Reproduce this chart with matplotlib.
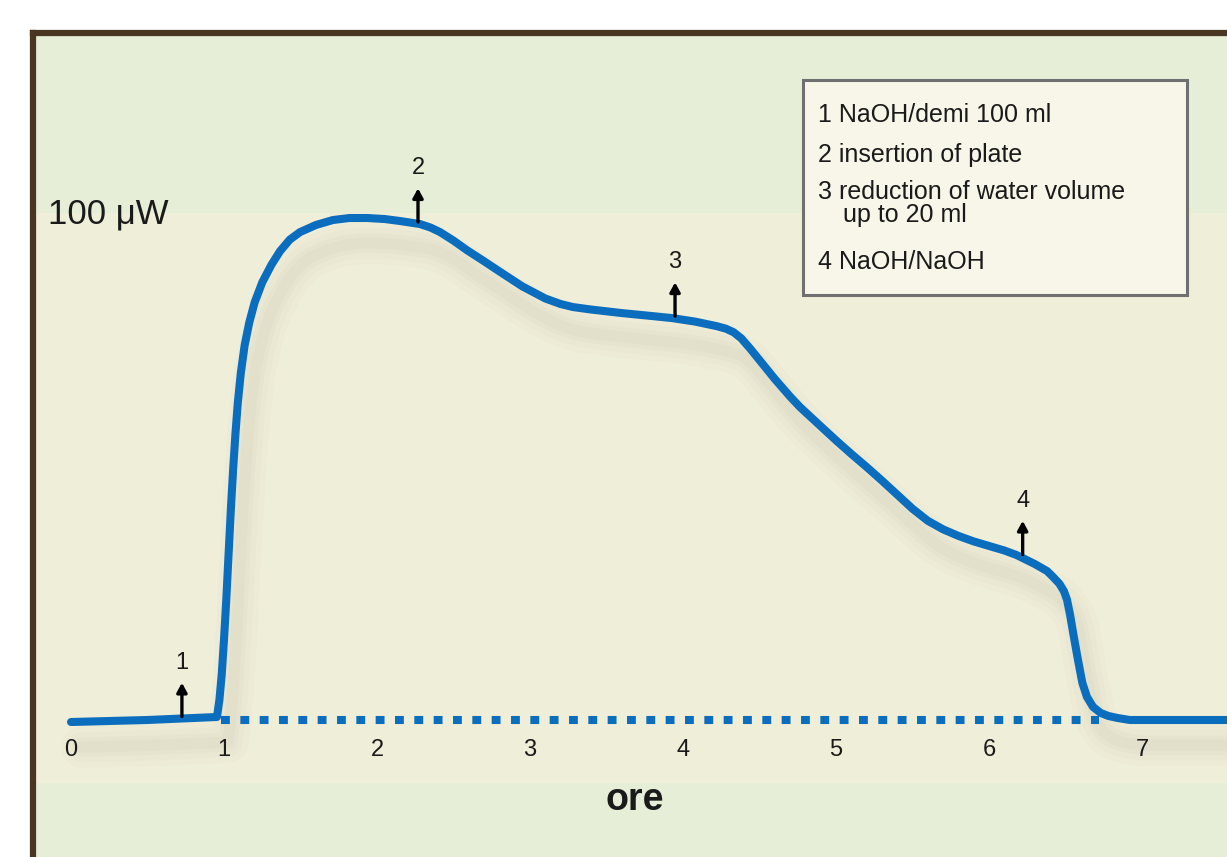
import matplotlib
matplotlib.use("Agg")
import matplotlib.pyplot as plt
import matplotlib.patches as mpatches
import numpy as np

# heat-flow trace (hours vs µW)
t_hours = [0.0, 0.5, 0.954, 0.97, 0.985, 1.0, 1.015, 1.03, 1.045, 1.06,
           1.075, 1.09, 1.11, 1.135, 1.165, 1.2, 1.25, 1.31, 1.366, 1.43,
           1.497, 1.6, 1.712, 1.82, 1.935, 2.05, 2.15, 2.281, 2.35, 2.412,
           2.5, 2.588, 2.7, 2.804, 2.95, 3.1, 3.2, 3.28, 3.4, 3.6, 3.8,
           3.93, 4.08, 4.22, 4.28, 4.33, 4.38, 4.44, 4.52, 4.6, 4.7, 4.765,
           4.9, 5.0, 5.1, 5.2, 5.3, 5.4, 5.5, 5.6, 5.7, 5.8, 5.9, 6.0, 6.1,
           6.18, 6.3, 6.38, 6.42, 6.46, 6.49, 6.51, 6.53, 6.55, 6.58, 6.61,
           6.64, 6.68, 6.73, 6.78, 6.84, 6.92, 7.6]
power_uw = [-0.4, 0.0, 0.6, 4.0, 9.0, 16.0, 24.0, 33.0, 42.0, 50.0,
            57.0, 63.0, 69.0, 74.5, 79.0, 83.0, 87.0, 90.5, 93.2, 95.5,
            97.0, 98.4, 99.4, 99.8, 99.8, 99.6, 99.2, 98.6, 97.9, 97.0,
            95.3, 93.4, 91.2, 89.1, 86.2, 83.8, 82.7, 82.1, 81.6, 80.9, 80.3,
            79.9, 79.2, 78.3, 77.8, 77.1, 75.9, 73.8, 70.8, 67.8, 64.3, 62.2,
            58.4, 55.6, 52.9, 50.3, 47.6, 44.8, 42.0, 39.6, 37.9, 36.6, 35.5,
            34.6, 33.7, 32.8, 31.0, 29.6, 28.4, 27.1, 25.6, 23.9, 20.9, 17.3,
            12.2, 7.4, 4.6, 2.6, 1.4, 0.8, 0.4, 0.0, 0.0]

# dotted baseline
base_x = [0.98, 6.72]
base_y = [0, 0]

# event markers
event_x = [0.725, 2.268, 3.948, 6.22]
event_y = [0.4, 98.7, 80.0, 32.6]
event_labels = ["1", "2", "3", "4"]

tick_vals = [0, 1, 2, 3, 4, 5, 6, 7]
tick_labels = ["0", "1", "2", "3", "4", "5", "6", "7"]

legend_lines = ["1 NaOH/demi 100 ml", "2 insertion of plate",
                "3 reduction of water volume", "up to 20 ml", "4 NaOH/NaOH"]

BLUE = "#0b6dbd"
GREEN_BG = "#e6eed8"
BEIGE_BG = "#efeed8"
BROWN = "#4a3522"
INK = "#1a1a1a"
FONT = ["Liberation Sans", "DejaVu Sans"]

W, H = 1227, 857
fig = plt.figure(figsize=(W / 100, H / 100), dpi=100)
fig.patch.set_facecolor("white")

left_px, top_px = 33, 33
ax = fig.add_axes([left_px / W, 0, 1 - left_px / W, 1 - top_px / H])
ax.set_facecolor(GREEN_BG)

# pixel mapping: x=0 at 71 px, 153 px/h ; y=0 at 720 px from top, 5.03 px/µW
sx, sy = 153.0, 5.03
x0_px, y0_px = 71 - left_px, H - 720
ax_w, ax_h = W - left_px, H - top_px
ax.set_xlim(-x0_px / sx, (ax_w - x0_px) / sx)
ax.set_ylim(-y0_px / sy, (ax_h - y0_px) / sy)

# beige band behind the trace
ax.axhspan(-12.5, 100.8, color=BEIGE_BG, zorder=0, lw=0)

t = np.array(t_hours)
p = np.array(power_uw)

# soft shadow under the curve
for lw, a in [(30, 0.018), (22, 0.025), (14, 0.035), (8, 0.04)]:
    ax.plot(t + 0.07, p - 5.0, color="#8a8670", lw=lw, alpha=a,
            solid_capstyle="round", solid_joinstyle="round", zorder=1)

ax.plot(base_x, base_y, color=BLUE, lw=5.8, linestyle=(0, (1.1, 1.3)),
        dash_capstyle="butt", zorder=2)
ax.plot(t, p, color=BLUE, lw=5.8, solid_joinstyle="round",
        solid_capstyle="round", zorder=3)

for x, y, lab in zip(event_x, event_y, event_labels):
    ax.annotate("", xy=(x, y + 7.0), xytext=(x, y + 0.3),
                arrowprops=dict(arrowstyle="-|>,head_length=0.55,head_width=0.3",
                                color="black", lw=2.4, shrinkA=0, shrinkB=0),
                zorder=4)
    ax.text(x, y + 11.0, lab, ha="center", va="center", fontsize=17,
            family=FONT, color=INK, zorder=4)

# axis numbers
ax.spines["bottom"].set_position(("data", 0))
ax.set_xticks(tick_vals)
ax.set_xticklabels(tick_labels, family=FONT, fontsize=17, color=INK)
ax.tick_params(axis="x", length=0, pad=14)
ax.set_yticks([])
for s in ["bottom", "right"]:
    ax.spines[s].set_visible(False)
for s in ["left", "top"]:
    ax.spines[s].set_color(BROWN)
    ax.spines[s].set_linewidth(4.5)

fig.text(48 / W, 1 - 214 / H, "100 \u03bcW", ha="left", va="center",
         fontsize=25, family=FONT, color=INK)
fig.text(635 / W, 1 - 800 / H, "ore", ha="center", va="center",
         fontsize=27, family=FONT, fontweight="bold", color=INK)

# legend box
box = mpatches.Rectangle((803 / W, 1 - 295 / H), 384 / W, 215 / H,
                         transform=fig.transFigure, facecolor="#f8f6e9",
                         edgecolor="#707070", lw=2.2, zorder=5)
fig.patches.append(box)
line_x = [818, 818, 818, 843, 818]
line_y = [115, 155, 192, 215, 262]
for txt, xx, yy in zip(legend_lines, line_x, line_y):
    fig.text(xx / W, 1 - yy / H, txt, ha="left", va="center", fontsize=18,
             family=FONT, color=INK, zorder=6)

fig.savefig("out.png", dpi=100, facecolor=fig.get_facecolor())
